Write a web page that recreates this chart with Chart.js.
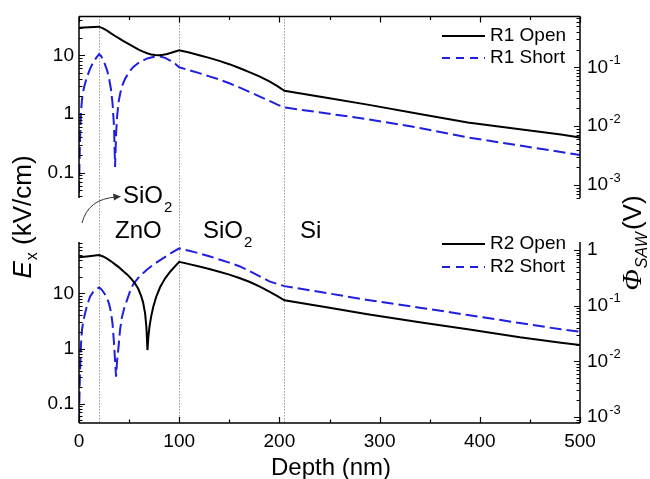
<!DOCTYPE html>
<html><head><meta charset="utf-8">
<script src="https://cdn.jsdelivr.net/npm/chart.js@4.4.0/dist/chart.umd.min.js"></script>
<style>
html,body{margin:0;padding:0;background:#fff;}
#wrap{position:relative;width:650px;height:479px;background:#fff;}
canvas{position:absolute;left:0;top:0;}
</style></head><body>
<div id="wrap"><canvas id="topc" width="650" height="479"></canvas><canvas id="botc" width="650" height="479"></canvas></div>
<script>
// ---- data (Depth in nm, Ex in kV/cm) ----
const xTicks = [0, 100, 200, 300, 400, 500];
const leftTicks = [0.1, 1, 10];
const interfaces = [20, 100, 205];

const depthR1Open = [0, 10, 20, 24, 28, 32, 36, 40, 44, 48, 52, 56, 60, 64, 68, 72, 76, 80, 84, 88, 92, 96, 100,
  110, 120, 130, 140, 150, 160, 170, 180, 190, 198, 205, 250, 288, 340, 388, 440, 481, 500];
const r1Open = [29.7, 30.3, 31, 29, 26.5, 23.8, 21.5, 19.5, 17.7, 16.2, 14.8, 13.6, 12.5, 11.6, 10.9, 10.4, 10.15, 10.1, 10.3, 10.6, 11.1, 11.7, 12.3,
  11.2, 10.1, 9.1, 8.1, 7.1, 6.1, 5.2, 4.4, 3.6, 3.0, 2.5, 1.87, 1.45, 1.0, 0.72, 0.55, 0.447, 0.40];

const depthR1Short = [0, 0.5, 1, 2, 3, 4.5, 6, 8, 11, 14, 17, 20, 22, 24, 26, 28, 30, 32, 33.5, 35, 36, 37, 38, 39.5, 41, 43, 46, 50, 54, 60, 68, 75, 81, 86, 91, 96, 100,
  110, 120, 130, 140, 150, 160, 170, 180, 190, 198, 205, 250, 288, 340, 388, 440, 481, 500];
const r1Short = [0.045, 0.15, 0.35, 1.1, 1.8, 2.6, 3.3, 4.3, 5.9, 7.5, 9.0, 10.5, 9.8, 8.4, 7.0, 5.6, 4.1, 2.6, 1.5, 0.6, 0.125, 0.45, 0.9, 1.6, 2.2, 3.0, 4.0, 5.2, 6.3, 7.6, 8.9, 9.5, 9.6, 9.1, 8.2, 7.2, 6.3,
  5.6, 5.0, 4.4, 3.9, 3.35, 2.85, 2.4, 2.0, 1.68, 1.45, 1.3, 1.01, 0.82, 0.58, 0.40, 0.29, 0.226, 0.2];

const depthR2Open = [0, 10, 20, 24, 28, 32, 36, 40, 44, 48, 52, 56, 59, 62, 64, 66, 67.3, 68.3, 69.3, 70.5, 72, 74, 77, 81, 86, 91, 96, 100,
  110, 120, 130, 140, 150, 160, 170, 180, 190, 198, 205, 250, 288, 340, 388, 440, 481, 500];
const r2Open = [44.8, 47, 49.3, 46.5, 42.5, 38, 33.5, 29.5, 25.5, 22, 18.5, 15, 12.2, 9, 6.8, 4.3, 2.4, 0.94, 1.7, 2.6, 3.8, 5.6, 8.6, 13, 18.7, 24.6, 31, 37.3,
  33.8, 30.6, 27.6, 24.6, 21.8, 19, 16.2, 13.4, 10.7, 8.9, 7.5, 5.47, 4.2, 3.0, 2.23, 1.6, 1.28, 1.16];

const depthR2Short = [0, 0.5, 1, 2, 3, 4.5, 6, 8, 11, 14, 17, 20, 22, 24, 26, 28, 30, 32, 33.5, 35, 36, 37, 38, 39.3, 41, 42.7, 45, 48, 51, 54, 60, 68, 75, 81, 87, 93, 100,
  110, 120, 130, 140, 150, 160, 170, 180, 190, 198, 205, 250, 288, 340, 388, 440, 481, 500];
const r2Short = [0.05, 0.15, 0.36, 1.2, 2.2, 3.3, 4.3, 6, 8.7, 10.5, 11.8, 12.8, 12, 10.8, 9.5, 8.2, 6.5, 4.5, 2.8, 1.2, 0.6, 0.31, 0.6, 1.0, 2.2, 3.6, 5.3, 7.6, 11, 14.5, 20, 27, 34, 40, 47, 55, 65,
  59, 53, 47, 41, 36, 31, 25.5, 20.5, 16.5, 14.8, 13.5, 9.9, 7.6, 5.5, 4.06, 2.9, 2.23, 2.02];

const seriesNames = ['R1 Open', 'R1 Short', 'R2 Open', 'R2 Short'];

// ---- styling ----
const FONT = "'Liberation Sans', Arial, sans-serif";
const BLUE = '#1f1fe0';
const pts = (xs, ys) => xs.map((x, i) => ({x: x, y: ys[i]}));

function drawAxes(chart, cfg) {
  const {ctx, chartArea: a, scales} = chart;
  const x = scales.x;
  ctx.save();
  ctx.strokeStyle = '#000';
  ctx.lineWidth = 1.5;
  ctx.beginPath();
  ctx.moveTo(a.left, a.top); ctx.lineTo(a.left, a.bottom);
  ctx.moveTo(a.right, a.top); ctx.lineTo(a.right, a.bottom);
  if (cfg.topLine) { ctx.moveTo(a.left, a.top); ctx.lineTo(a.right, a.top); }
  if (cfg.bottomLine) { ctx.moveTo(a.left, a.bottom); ctx.lineTo(a.right, a.bottom); }
  ctx.stroke();
  ctx.lineWidth = 1.2;
  ctx.beginPath();
  for (let v = 0; v <= 500; v += 50) {
    const px = Math.round(x.getPixelForValue(v)) + 0.5;
    const len = v % 100 === 0 ? 6 : 3.5;
    if (cfg.topLine) { ctx.moveTo(px, a.top); ctx.lineTo(px, a.top + len); }
    if (cfg.bottomLine) { ctx.moveTo(px, a.bottom); ctx.lineTo(px, a.bottom - len); }
  }
  [['y', 1], ['y2', -1]].forEach(([id, dir]) => {
    const s = scales[id];
    const e0 = Math.floor(Math.log10(s.min)), e1 = Math.ceil(Math.log10(s.max));
    for (let e = e0; e <= e1; e++) {
      for (let m = 1; m <= 9; m++) {
        const v = m * Math.pow(10, e);
        if (v < s.min || v > s.max) continue;
        const py = Math.round(s.getPixelForValue(v)) + 0.5;
        const len = m === 1 ? 6 : 3.5;
        const x0 = dir === 1 ? a.left : a.right;
        ctx.moveTo(x0, py); ctx.lineTo(x0 + dir * len, py);
      }
    }
  });
  ctx.stroke();
  // right axis labels 10^n
  const s2 = scales.y2;
  ctx.fillStyle = '#000';
  ctx.textBaseline = 'middle';
  ctx.textAlign = 'left';
  const e0 = Math.ceil(Math.log10(s2.min) - 1e-9), e1 = Math.floor(Math.log10(s2.max) + 1e-9);
  for (let e = e0; e <= e1; e++) {
    const py = s2.getPixelForValue(Math.pow(10, e));
    const x0 = a.right + 7;
    ctx.font = '19px ' + FONT;
    if (e === 0) { ctx.fillText('1', x0, py); continue; }
    ctx.fillText('10', x0, py);
    const w = ctx.measureText('10').width;
    ctx.font = '13px ' + FONT;
    ctx.fillText(String(e), x0 + w + 1, py - 7);
  }
  // legend
  cfg.legend.forEach(item => {
    ctx.beginPath();
    ctx.strokeStyle = item.color;
    ctx.lineWidth = 2;
    ctx.setLineDash(item.dash ? [8, 6] : []);
    ctx.moveTo(442, item.y); ctx.lineTo(485, item.y);
    ctx.stroke();
    ctx.setLineDash([]);
    ctx.fillStyle = '#000';
    ctx.font = '19px ' + FONT;
    ctx.textBaseline = 'middle';
    ctx.textAlign = 'left';
    ctx.fillText(item.text, 490, item.y);
  });
  ctx.restore();
}

function drawInterfaces(chart) {
  const {ctx, chartArea: a, scales} = chart;
  ctx.save();
  ctx.strokeStyle = '#666';
  ctx.lineWidth = 1;
  ctx.setLineDash([1, 2]);
  interfaces.forEach(d => {
    const px = Math.round(scales.x.getPixelForValue(d)) + 0.5;
    ctx.beginPath();
    ctx.moveTo(px, a.top); ctx.lineTo(px, 423);
    ctx.stroke();
  });
  ctx.restore();
}

function drawTexts(chart) {
  const ctx = chart.ctx;
  ctx.save();
  ctx.fillStyle = '#000';
  ctx.textAlign = 'left';
  ctx.textBaseline = 'alphabetic';
  const big = '24px ' + FONT, sub = '15px ' + FONT;
  function chem(base, subtxt, x, y) {
    ctx.font = big; ctx.fillText(base, x, y);
    if (subtxt) { const w = ctx.measureText(base).width; ctx.font = sub; ctx.fillText(subtxt, x + w + 1, y + 9); }
  }
  chem('SiO', '2', 123, 203);
  chem('ZnO', '', 115, 238);
  chem('SiO', '2', 203, 238);
  chem('Si', '', 300, 238);
  // arrow
  ctx.strokeStyle = '#333'; ctx.lineWidth = 1;
  ctx.beginPath(); ctx.moveTo(82, 223); ctx.quadraticCurveTo(88, 199, 116, 197); ctx.stroke();
  ctx.fillStyle = '#333';
  ctx.beginPath(); ctx.moveTo(121, 196.5); ctx.lineTo(113, 193.5); ctx.lineTo(114, 200.5); ctx.closePath(); ctx.fill();
  ctx.fillStyle = '#000';
  // x title
  ctx.font = big; ctx.textAlign = 'center';
  ctx.fillText('Depth (nm)', 331, 475);
  // left title
  ctx.save();
  ctx.translate(24, 217); ctx.rotate(-Math.PI / 2);
  ctx.textAlign = 'left'; ctx.textBaseline = 'middle';
  const fE = 'italic 26px ' + FONT, fx = '16px ' + FONT, fr = '26px ' + FONT;
  ctx.font = fE; const wE = ctx.measureText('E').width;
  ctx.font = fx; const wx = ctx.measureText('x').width;
  ctx.font = fr; const wr = ctx.measureText(' (kV/cm)').width;
  let sx = -(wE + wx + 1 + wr) / 2;
  ctx.font = fE; ctx.fillText('E', sx, 0); sx += wE + 1;
  ctx.font = fx; ctx.fillText('x', sx, 9); sx += wx;
  ctx.font = fr; ctx.fillText(' (kV/cm)', sx, 0);
  ctx.restore();
  // right title
  ctx.save();
  ctx.translate(634, 243); ctx.rotate(-Math.PI / 2);
  ctx.textAlign = 'left'; ctx.textBaseline = 'middle';
  const fP = "italic 28px 'Liberation Serif', 'Times New Roman', serif", fS = 'italic 16px ' + FONT, fV = '26px ' + FONT;
  ctx.font = fP; const wP = ctx.measureText('\u03A6').width;
  ctx.font = fS; const wS = ctx.measureText('SAW').width;
  ctx.font = fV; const wV = ctx.measureText('(V)').width;
  let rx = -(wP + wS + wV + 3) / 2;
  ctx.font = fP; ctx.fillText('\u03A6', rx, 0); rx += wP + 1;
  ctx.font = fS; ctx.fillText('SAW', rx, 9); rx += wS + 2;
  ctx.font = fV; ctx.fillText('(V)', rx, 0);
  ctx.restore();
  ctx.restore();
}

function yLeft(min, max) {
  return {
    type: 'logarithmic', position: 'left', min: min, max: max,
    grid: {display: false, drawTicks: false}, border: {display: false},
    ticks: {font: {family: FONT, size: 19}, color: '#000', padding: 5,
      callback: v => (v < 1 ? v.toFixed(1) : String(v))},
    afterBuildTicks: s => { s.ticks = leftTicks.map(v => ({value: v, major: true})); },
    afterFit: s => { s.width = 79; }
  };
}
function yRight(min, max) {
  return {
    type: 'logarithmic', position: 'right', min: min, max: max,
    grid: {display: false, drawTicks: false}, border: {display: false},
    ticks: {display: false},
    afterFit: s => { s.width = 70; }
  };
}
function lineDs(label, xs, ys, dashed) {
  return {label: label, data: pts(xs, ys), yAxisID: 'y',
    borderColor: dashed ? BLUE : '#000', borderWidth: 2, borderDash: dashed ? [12, 5] : [],
    pointRadius: 0, tension: 0, fill: false};
}

Chart.defaults.font.family = FONT;

new Chart(document.getElementById('topc'), {
  type: 'line',
  data: {datasets: [
    lineDs(seriesNames[0], depthR1Open, r1Open, false),
    lineDs(seriesNames[1], depthR1Short, r1Short, true)
  ]},
  options: {
    responsive: false, animation: false,
    layout: {padding: {top: 13, bottom: 281, left: 0, right: 0}},
    plugins: {legend: {display: false}, tooltip: {enabled: false}},
    scales: {
      x: {type: 'linear', min: 0, max: 500, display: false},
      y: yLeft(0.037, 46.4),
      y2: yRight(6.07e-4, 0.735)
    }
  },
  plugins: [{
    id: 'topDeco',
    beforeDatasetsDraw: c => drawInterfaces(c),
    afterDraw: c => {
      drawAxes(c, {topLine: true, bottomLine: false, legend: [
        {text: seriesNames[0], y: 36, color: '#000', dash: false},
        {text: seriesNames[1], y: 58, color: BLUE, dash: true}]});
      drawTexts(c);
    }
  }]
});

new Chart(document.getElementById('botc'), {
  type: 'line',
  data: {datasets: [
    lineDs(seriesNames[2], depthR2Open, r2Open, false),
    lineDs(seriesNames[3], depthR2Short, r2Short, true)
  ]},
  options: {
    responsive: false, animation: false,
    layout: {padding: {top: 242, bottom: 0, left: 0, right: 0}},
    plugins: {legend: {display: false}, tooltip: {enabled: false}},
    scales: {
      x: {type: 'linear', min: 0, max: 500, position: 'bottom',
        grid: {display: false, drawTicks: false}, border: {display: false},
        ticks: {font: {family: FONT, size: 19}, color: '#000', padding: 7, maxRotation: 0, stepSize: 100},
        afterBuildTicks: s => { s.ticks = xTicks.map(v => ({value: v})); },
        afterFit: s => { s.height = 56; }},
      y: yLeft(0.045, 85),
      y2: yRight(7.8e-4, 1.39)
    }
  },
  plugins: [{
    id: 'botDeco',
    afterDraw: c => {
      drawAxes(c, {topLine: false, bottomLine: true, legend: [
        {text: seriesNames[2], y: 244, color: '#000', dash: false},
        {text: seriesNames[3], y: 267, color: BLUE, dash: true}]});
    }
  }]
});
</script>
</body></html>
